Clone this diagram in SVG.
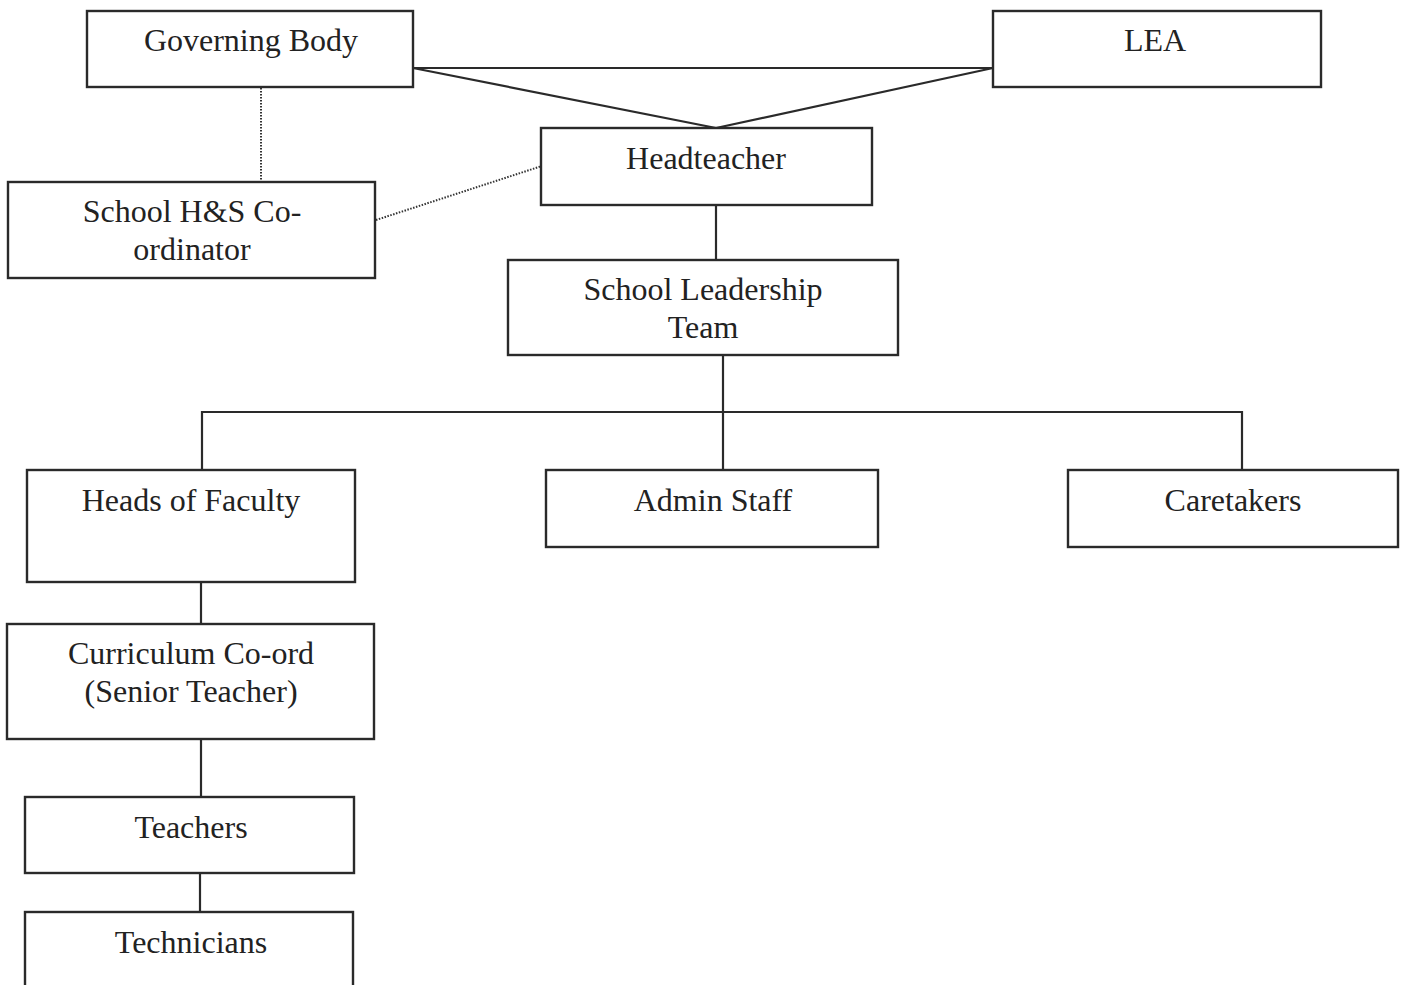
<svg xmlns="http://www.w3.org/2000/svg" width="1402" height="985" viewBox="0 0 1402 985">
<style>
.box{fill:#fff;stroke:#2a2a2a;stroke-width:2.4}
.t{font-family:"Liberation Serif","Times New Roman",serif;font-size:32px;fill:#222;text-anchor:middle}
.ln{stroke:#2a2a2a;stroke-width:2.2;fill:none}
.dot{stroke:#333;stroke-width:2;stroke-dasharray:1.5 1.5;fill:none}
</style>
<rect width="1402" height="985" fill="#fff"/>
<g id="connectors">
<line class="ln" x1="413" y1="68" x2="993" y2="68"/>
<line class="ln" x1="413" y1="68" x2="716" y2="128"/>
<line class="ln" x1="993" y1="68" x2="716" y2="128"/>
<line class="dot" x1="261" y1="88" x2="261" y2="182"/>
<line class="dot" x1="376" y1="220" x2="548" y2="164"/>
<line class="ln" x1="716" y1="205" x2="716" y2="260"/>
<line class="ln" x1="723" y1="355" x2="723" y2="470"/>
<polyline class="ln" points="202,470 202,412 1242,412 1242,470"/>
<line class="ln" x1="201" y1="582" x2="201" y2="624"/>
<line class="ln" x1="201" y1="739" x2="201" y2="797"/>
<line class="ln" x1="200" y1="873" x2="200" y2="912"/>
</g>
<g id="governing-body"><rect class="box" x="87" y="11" width="326" height="76"/><text class="t" x="251" y="51">Governing Body</text></g>
<g id="lea"><rect class="box" x="993" y="11" width="328" height="76"/><text class="t" x="1155" y="51">LEA</text></g>
<g id="headteacher"><rect class="box" x="541" y="128" width="331" height="77"/><text class="t" x="706" y="169">Headteacher</text></g>
<g id="hs-coordinator"><rect class="box" x="8" y="182" width="367" height="96"/><text class="t" x="192" y="222">School H&amp;S Co-</text><text class="t" x="192" y="260">ordinator</text></g>
<g id="slt"><rect class="box" x="508" y="260" width="390" height="95"/><text class="t" x="703" y="300">School Leadership</text><text class="t" x="703" y="338">Team</text></g>
<g id="heads-of-faculty"><rect class="box" x="27" y="470" width="328" height="112"/><text class="t" x="191" y="511">Heads of Faculty</text></g>
<g id="admin-staff"><rect class="box" x="546" y="470" width="332" height="77"/><text class="t" x="713" y="511">Admin Staff</text></g>
<g id="caretakers"><rect class="box" x="1068" y="470" width="330" height="77"/><text class="t" x="1233" y="511">Caretakers</text></g>
<g id="curriculum"><rect class="box" x="7" y="624" width="367" height="115"/><text class="t" x="191" y="664">Curriculum Co-ord</text><text class="t" x="191" y="702">(Senior Teacher)</text></g>
<g id="teachers"><rect class="box" x="25" y="797" width="329" height="76"/><text class="t" x="191" y="838">Teachers</text></g>
<g id="technicians"><rect class="box" x="25" y="912" width="328" height="90"/><text class="t" x="191" y="953">Technicians</text></g>
</svg>
